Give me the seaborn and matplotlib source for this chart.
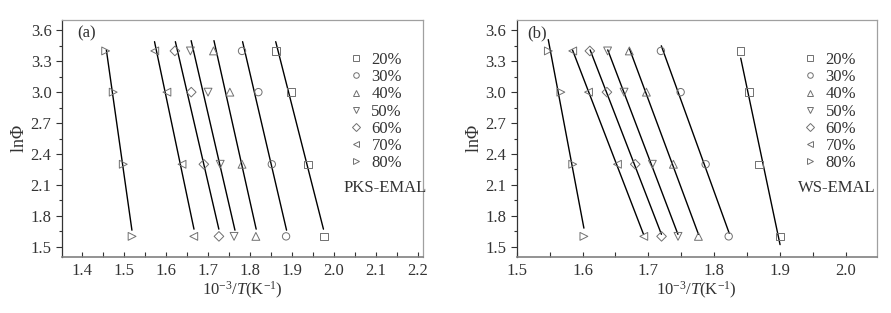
import numpy as np
import pandas as pd
import matplotlib
matplotlib.use("Agg")
import matplotlib.pyplot as plt
from matplotlib.lines import Line2D
from matplotlib.ticker import MultipleLocator, FormatStrFormatter
import seaborn as sns

# conversion levels and heating-rate values (ln phi)
contents = ['20%', '30%', '40%', '50%', '60%', '70%', '80%']
ln_phi = [3.4, 3.0, 2.3, 1.6]

# 10^-3/T (a) PKS-EMAL, one row per conversion level
x_pks = [
    [1.862, 1.898, 1.938, 1.976],
    [1.781, 1.820, 1.852, 1.886],
    [1.713, 1.752, 1.781, 1.814],
    [1.658, 1.700, 1.729, 1.762],
    [1.621, 1.660, 1.690, 1.726],
    [1.573, 1.602, 1.638, 1.666],
    [1.456, 1.474, 1.498, 1.519],
]
# panel (b) WS-EMAL
x_ws = [
    [1.840, 1.853, 1.868, 1.900],
    [1.719, 1.749, 1.787, 1.822],
    [1.671, 1.697, 1.738, 1.776],
    [1.638, 1.663, 1.706, 1.745],
    [1.611, 1.637, 1.680, 1.720],
    [1.585, 1.609, 1.653, 1.693],
    [1.548, 1.567, 1.585, 1.602],
]
# y span (top, bottom) of each fitted line
span_pks = [(3.49, 1.67), (3.49, 1.66), (3.50, 1.67), (3.50, 1.66),
            (3.49, 1.67), (3.49, 1.67), (3.41, 1.66)]
span_ws = [(3.33, 1.52), (3.45, 1.63), (3.42, 1.62), (3.41, 1.62),
           (3.41, 1.62), (3.41, 1.62), (3.51, 1.68)]

markers = {'20%': 's', '30%': 'o', '40%': '^', '50%': 'v',
           '60%': 'D', '70%': '<', '80%': '>'}
msize = {'20%': 28, '30%': 28, '40%': 32, '50%': 32,
         '60%': 24, '70%': 32, '80%': 32}


def to_frame(xs):
    rows = []
    for c, xv in zip(contents, xs):
        for x, y in zip(xv, ln_phi):
            rows.append({'x': x, 'y': y, 'content': c})
    return pd.DataFrame(rows)


sns.set_theme(style="ticks")
plt.rcParams['font.family'] = ['Liberation Serif', 'DejaVu Serif']
plt.rcParams['mathtext.fontset'] = 'custom'
plt.rcParams['mathtext.rm'] = 'Liberation Serif'
plt.rcParams['mathtext.it'] = 'Liberation Serif:italic'

fig = plt.figure(figsize=(8.91, 3.13), dpi=100)
ax_a = fig.add_axes([0.0696, 0.179, 0.405, 0.757])
ax_b = fig.add_axes([0.580, 0.179, 0.404, 0.757])

edge = '#707070'
txt = '#333333'
fs = 12

panels = [
    (ax_a, x_pks, span_pks, '(a)', 'PKS-EMAL', (1.352, 2.212), 0.042),
    (ax_b, x_ws, span_ws, '(b)', 'WS-EMAL', (1.5, 2.047), 0.028),
]

for ax, xs, spans, tag, name, xlim, tagx in panels:
    df = to_frame(xs)
    for c in contents:
        sub = df[df['content'] == c]
        sns.scatterplot(data=sub, x='x', y='y', marker=markers[c], s=msize[c],
                        facecolor='none', edgecolor=edge, linewidth=0.7,
                        ax=ax, legend=False, zorder=3)
    # linear fit of each conversion level
    for xv, (ytop, ybot) in zip(xs, spans):
        m, b = np.polyfit(xv, ln_phi, 1)
        yy = np.array([ytop, ybot])
        ax.plot((yy - b) / m, yy, color='black', lw=1.0, zorder=2)

    ax.set_xlim(*xlim)
    ax.set_ylim(1.4, 3.7)
    ax.xaxis.set_major_locator(MultipleLocator(0.1))
    ax.xaxis.set_minor_locator(MultipleLocator(0.05))
    ax.yaxis.set_major_locator(MultipleLocator(0.3))
    ax.yaxis.set_minor_locator(MultipleLocator(0.15))
    ax.tick_params(axis='x', which='both', direction='in', length=3.5,
                   width=0.8, colors=txt, labelsize=fs, pad=4)
    ax.tick_params(axis='y', which='major', direction='out', length=4,
                   width=0.8, colors=txt, labelsize=fs)
    ax.tick_params(axis='y', which='minor', direction='out', length=2.5,
                   width=0.8, colors=txt)
    ax.xaxis.set_major_formatter(FormatStrFormatter('%.1f'))
    ax.yaxis.set_major_formatter(FormatStrFormatter('%.1f'))
    for side in ['top', 'right']:
        ax.spines[side].set_visible(True)
        ax.spines[side].set_color('#a0a0a0')
        ax.spines[side].set_linewidth(0.9)
    ax.spines['left'].set_color(txt)
    ax.spines['bottom'].set_color('#808080')
    ax.spines['left'].set_linewidth(0.9)
    ax.spines['bottom'].set_linewidth(1.2)

    ax.set_xlabel(r'$10^{-3}/T\mathrm{(K^{-1})}$', fontsize=fs, color=txt,
                  labelpad=1)
    ax.set_ylabel(r'$\mathrm{ln}\mathit{Φ}$', fontsize=fs + 1, color=txt,
                  labelpad=2)
    ax.text(tagx, 0.945, tag, transform=ax.transAxes, fontsize=fs,
            ha='left', va='center', color=txt)

    handles = [Line2D([], [], ls='none', marker=markers[c], markersize=4.0,
                      markerfacecolor='none', markeredgecolor=edge,
                      markeredgewidth=0.7, label=c) for c in contents]
    leg = ax.legend(handles=handles, loc='upper left', frameon=False,
                    bbox_to_anchor=(0.772, 0.893), fontsize=fs,
                    handlelength=1.0, handletextpad=0.45, labelspacing=0.07,
                    borderaxespad=0)
    for t in leg.get_texts():
        t.set_color(txt)
    ax.text(0.78, 0.29, name, transform=ax.transAxes, fontsize=fs,
            ha='left', va='center', color=txt)

fig.savefig('out.png', dpi=100)
